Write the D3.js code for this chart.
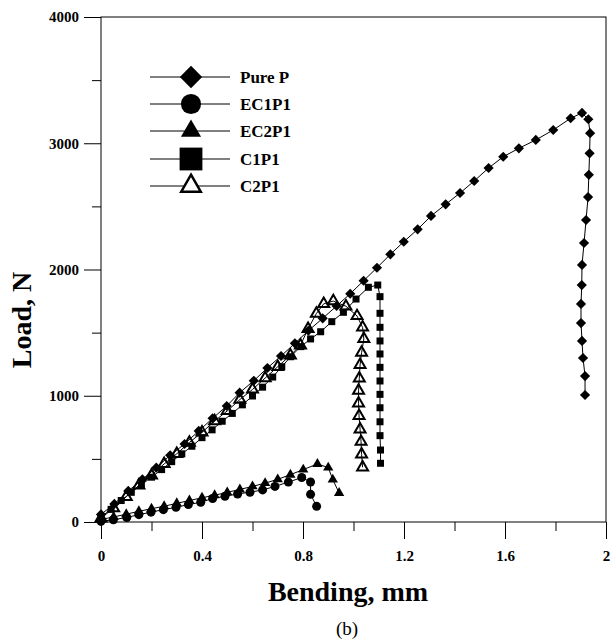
<!DOCTYPE html>
<html>
<head>
<meta charset="utf-8">
<script src="https://cdn.jsdelivr.net/npm/d3@7"></script>
<style>
  body { margin: 0; background: #fff; }
  text { font-family: "Liberation Serif", "Times New Roman", serif; }
</style>
</head>
<body>
<svg id="chart" width="610" height="640"></svg>
<script>
// Bending (mm) / load (N)
const purePBending = [0.0, 0.053, 0.108, 0.164, 0.219, 0.274, 0.331, 0.387, 0.442, 0.498, 0.549, 0.605, 0.659, 0.713, 0.768, 0.821, 0.878, 0.933, 0.987, 1.04, 1.093, 1.146, 1.199, 1.254, 1.307, 1.365, 1.422, 1.478, 1.535, 1.593, 1.655, 1.722, 1.791, 1.86, 1.905, 1.93, 1.937, 1.935, 1.932, 1.929, 1.921, 1.913, 1.905, 1.904, 1.901, 1.901, 1.905, 1.909, 1.917, 1.917];
const purePLoad = [60, 143, 246, 338, 430, 528, 618, 721, 821, 919, 1024, 1119, 1220, 1315, 1415, 1515, 1613, 1711, 1808, 1911, 2014, 2120, 2220, 2318, 2424, 2516, 2606, 2701, 2804, 2893, 2960, 3026, 3105, 3198, 3240, 3190, 3080, 2920, 2750, 2574, 2392, 2210, 2036, 1877, 1727, 1576, 1434, 1299, 1156, 1006];

const ec1p1Bending = [0.0, 0.049, 0.102, 0.15, 0.198, 0.247, 0.297, 0.346, 0.395, 0.442, 0.491, 0.541, 0.59, 0.64, 0.689, 0.742, 0.795, 0.83, 0.83, 0.854];
const ec1p1Load = [5, 18, 36, 58, 78, 98, 116, 138, 156, 186, 204, 222, 236, 254, 282, 316, 352, 317, 219, 124];

const ec2p1Bending = [0.0, 0.05, 0.1, 0.15, 0.2, 0.25, 0.3, 0.35, 0.4, 0.45, 0.5, 0.55, 0.6, 0.65, 0.7, 0.75, 0.801, 0.857, 0.9, 0.918, 0.943];
const ec2p1Load = [20, 40, 62, 85, 105, 125, 148, 170, 192, 212, 235, 258, 282, 308, 338, 375, 415, 460, 431, 336, 230];

const c1p1Bending = [0.0, 0.04, 0.08, 0.12, 0.16, 0.2, 0.24, 0.28, 0.32, 0.36, 0.4, 0.44, 0.48, 0.52, 0.56, 0.6, 0.64, 0.68, 0.716, 0.751, 0.791, 0.83, 0.87, 0.914, 0.96, 1.01, 1.059, 1.096, 1.105, 1.105, 1.105, 1.105, 1.105, 1.105, 1.105, 1.105, 1.105, 1.105, 1.105, 1.107, 1.107];
const c1p1Load = [40, 100, 170, 235, 295, 355, 415, 478, 540, 600, 668, 730, 798, 860, 928, 998, 1068, 1148, 1230, 1309, 1389, 1450, 1507, 1587, 1661, 1766, 1859, 1877, 1785, 1653, 1542, 1434, 1331, 1225, 1117, 1011, 905, 794, 684, 570, 465];

const c2p1Bending = [0.0, 0.05, 0.1, 0.15, 0.2, 0.25, 0.3, 0.35, 0.4, 0.45, 0.5, 0.55, 0.6, 0.65, 0.7, 0.75, 0.79, 0.82, 0.853, 0.882, 0.92, 0.97, 1.014, 1.036, 1.041, 1.032, 1.026, 1.023, 1.02, 1.02, 1.022, 1.026, 1.03, 1.032, 1.036];
const c2p1Load = [30, 110, 200, 290, 370, 460, 540, 630, 710, 800, 880, 970, 1050, 1140, 1230, 1320, 1400, 1530, 1651, 1728, 1750, 1709, 1632, 1541, 1450, 1341, 1244, 1138, 1040, 940, 840, 734, 636, 536, 433];

const seriesNames = ["Pure P", "EC1P1", "EC2P1", "C1P1", "C2P1"];
const xTicks = [0, 0.4, 0.8, 1.2, 1.6, 2];
const xMinorTicks = [0.2, 0.6, 1.0, 1.4, 1.8];
const yTicks = [0, 1000, 2000, 3000, 4000];
const yMinorTicks = [500, 1500, 2500, 3500];

const svg = d3.select("#chart");

const x = d3.scaleLinear().domain([0, 2]).range([101, 606]);
const y = d3.scaleLinear().domain([0, 4000]).range([522, 17]);

// marker look per series
const markers = [
  { type: d3.symbolSquare, size: 52, rotate: 45, fill: "#000", stroke: "none", legendSize: 250 },
  { type: d3.symbolCircle, size: 64, rotate: 0, fill: "#000", stroke: "none", legendSize: 320 },
  { type: d3.symbolTriangle, size: 46, rotate: 0, fill: "#000", stroke: "none", legendSize: 175 },
  { type: d3.symbolSquare, size: 49, rotate: 0, fill: "#000", stroke: "none", legendSize: 520 },
  { type: d3.symbolTriangle, size: 52, rotate: 0, fill: "none", stroke: "#000", legendSize: 165 }
];

const allSeries = [
  d3.zip(purePBending, purePLoad),
  d3.zip(ec1p1Bending, ec1p1Load),
  d3.zip(ec2p1Bending, ec2p1Load),
  d3.zip(c1p1Bending, c1p1Load),
  d3.zip(c2p1Bending, c2p1Load)
];

// frame
svg.append("rect")
  .attr("x", x(0)).attr("y", y(4000))
  .attr("width", x(2) - x(0)).attr("height", y(0) - y(4000))
  .attr("fill", "none").attr("stroke", "#000").attr("stroke-width", 1);

// axes
svg.append("g")
  .attr("class", "axis")
  .attr("transform", `translate(0,${y(0)})`)
  .call(d3.axisBottom(x).tickValues(xTicks).tickSize(17).tickSizeOuter(0).tickPadding(11)
    .tickFormat(d => d3.format("~g")(d)));
svg.append("g")
  .attr("transform", `translate(0,${y(0)})`)
  .call(d3.axisBottom(x).tickValues(xMinorTicks).tickSize(9).tickSizeOuter(0).tickFormat(""));

svg.append("g")
  .attr("class", "axis")
  .attr("transform", `translate(${x(0)},0)`)
  .call(d3.axisLeft(y).tickValues(yTicks).tickSize(17).tickSizeOuter(0).tickPadding(5)
    .tickFormat(d3.format("d")));
svg.append("g")
  .attr("transform", `translate(${x(0)},0)`)
  .call(d3.axisLeft(y).tickValues(yMinorTicks).tickSize(9).tickSizeOuter(0).tickFormat(""));

svg.selectAll(".domain").remove();
svg.selectAll(".tick line").attr("stroke", "#000");
svg.selectAll(".axis")
  .attr("font-family", "'Liberation Serif', serif")
  .attr("font-size", 15)
  .attr("font-weight", "bold");
svg.selectAll(".tick text").attr("fill", "#000");

// axis titles
svg.append("text")
  .attr("x", 348).attr("y", 601)
  .attr("text-anchor", "middle")
  .style("font-size", "28px").style("font-weight", "bold")
  .text("Bending, mm");

svg.append("text")
  .attr("transform", "translate(31,320) rotate(-90)")
  .attr("text-anchor", "middle")
  .style("font-size", "28px").style("font-weight", "bold")
  .text("Load, N");

svg.append("text")
  .attr("x", 347).attr("y", 635)
  .attr("text-anchor", "middle")
  .style("font-size", "19px")
  .text("(b)");

// lines + markers
const line = d3.line().x(d => x(d[0])).y(d => y(d[1]));

allSeries.forEach(function (data, i) {
  const m = markers[i];
  svg.append("path")
    .datum(data)
    .attr("d", line)
    .attr("fill", "none")
    .attr("stroke", "#000")
    .attr("stroke-width", 1);

  svg.append("g")
    .selectAll("path")
    .data(data)
    .enter()
    .append("path")
    .attr("d", d3.symbol().type(m.type).size(m.size))
    .attr("transform", d => `translate(${x(d[0])},${y(d[1])}) rotate(${m.rotate})`)
    .attr("fill", m.fill)
    .attr("stroke", m.stroke)
    .attr("stroke-width", 2);
});

// legend
const legend = svg.append("g");
const legendY = [77, 104, 131, 159, 186];

seriesNames.forEach(function (name, i) {
  const m = markers[i];
  const g = legend.append("g").attr("transform", `translate(0,${legendY[i]})`);
  g.append("line")
    .attr("x1", 150).attr("x2", 230)
    .attr("y1", 0).attr("y2", 0)
    .attr("stroke", "#000").attr("stroke-width", 1);
  g.append("path")
    .attr("d", d3.symbol().type(m.type).size(m.legendSize))
    .attr("transform", `translate(191,0) rotate(${m.rotate})`)
    .attr("fill", m.fill === "none" ? "#fff" : m.fill)
    .attr("stroke", m.stroke)
    .attr("stroke-width", 2.5);
  g.append("text")
    .attr("x", 240).attr("y", 6)
    .style("font-size", "17px").style("font-weight", "bold")
    .text(name);
});
</script>
</body>
</html>
